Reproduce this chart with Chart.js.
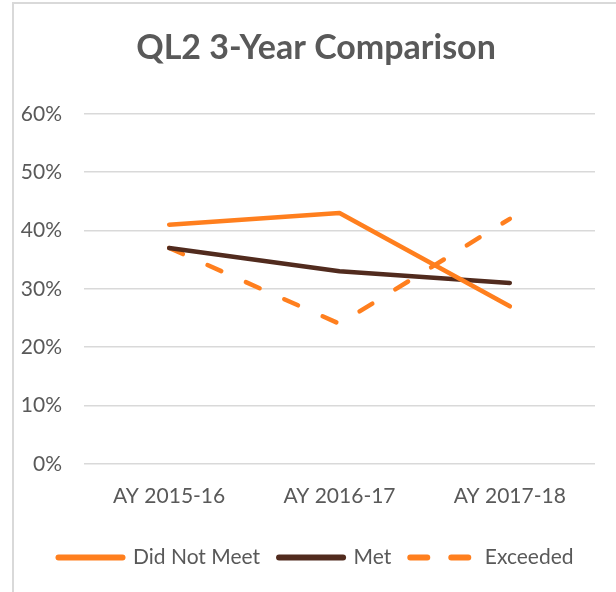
<!DOCTYPE html>
<html>
<head>
<meta charset="utf-8">
<script src="https://cdn.jsdelivr.net/npm/chart.js@4"></script>
<style>
  html, body { margin: 0; padding: 0; background: #fff; }
  #wrap { position: relative; width: 616px; height: 592px; overflow: hidden; }
  #frame { position: absolute; left: 12px; top: 2px; width: 700px; height: 700px;
           border: 2px solid #d9d9d9; pointer-events: none; }
</style>
</head>
<body>
<div id="wrap">
  <canvas id="chart-line" width="616" height="592"></canvas>
  <div id="frame"></div>
</div>
<script>
var years = ["AY 2015-16", "AY 2016-17", "AY 2017-18"];
var didNotMeet = [41, 43, 27];
var met = [37, 33, 31];
var exceeded = [37, 24, 42];
var yTicks = [0, 10, 20, 30, 40, 50, 60];

var orange = "#ff7f1e";
var brown = "#512b1e";
var grey = "#595959";

var ctx1 = document.getElementById("chart-line").getContext("2d");
new Chart(ctx1, {
  type: "line",
  data: {
    labels: years,
    datasets: [
      {
        label: "Did Not Meet",
        data: didNotMeet,
        borderColor: orange,
        backgroundColor: orange,
        borderWidth: 4.5,
        borderCapStyle: "round",
        borderJoinStyle: "round",
        pointRadius: 0,
        tension: 0,
      },
      {
        label: "Met",
        data: met,
        borderColor: brown,
        backgroundColor: brown,
        borderWidth: 4.5,
        borderCapStyle: "round",
        borderJoinStyle: "round",
        pointRadius: 0,
        tension: 0,
      },
      {
        label: "Exceeded",
        data: exceeded,
        borderColor: orange,
        backgroundColor: orange,
        borderWidth: 4.5,
        borderCapStyle: "round",
        borderDash: [15, 27],
        pointRadius: 0,
        tension: 0,
      },
    ],
  },
  options: {
    responsive: false,
    animation: false,
    layout: { padding: { left: 37, right: 21, top: 0, bottom: 14 } },
    plugins: {
      tooltip: { enabled: false },
      title: {
        display: true,
        text: "QL2 3-Year Comparison",
        color: grey,
        font: { family: "Lato", size: 34, weight: "bold" },
        padding: { top: 28, bottom: 45 },
      },
      legend: {
        position: "bottom",
        labels: {
          color: grey,
          font: { family: "Lato", size: 21 },
          usePointStyle: true,
          pointStyleWidth: 64,
          padding: 19,
          generateLabels: function (chart) {
            return chart.data.datasets.map(function (ds, i) {
              return {
                text: ds.label,
                strokeStyle: ds.borderColor,
                fillStyle: ds.borderColor,
                lineWidth: 6,
                lineCap: "round",
                lineDash: ds.borderDash ? [17, 24] : [],
                pointStyle: "line",
                fontColor: grey,
                hidden: false,
                datasetIndex: i,
              };
            });
          },
        },
      },
    },
    scales: {
      x: {
        offset: true,
        afterFit: function (s) { s.height -= 1; },
        grid: { display: false, drawTicks: false },
        border: { display: false },
        ticks: {
          color: grey,
          padding: 20,
          font: { family: "Lato", size: 21 },
        },
      },
      y: {
        min: 0,
        max: 60,
        afterFit: function (s) {
          s.width = 47;
          // labels reach left of the axis box, so don't clip them
          s._computeLabelArea = function () {};
        },
        afterBuildTicks: function (s) {
          s.ticks = yTicks.map(function (v) { return { value: v }; });
        },
        grid: { color: "#d9d9d9", lineWidth: 1.5, drawTicks: false },
        border: { display: false },
        ticks: {
          color: grey,
          padding: 22,
          font: { family: "Lato", size: 21 },
          callback: function (v) { return v + "%"; },
        },
      },
    },
  },
});
</script>
</body>
</html>
